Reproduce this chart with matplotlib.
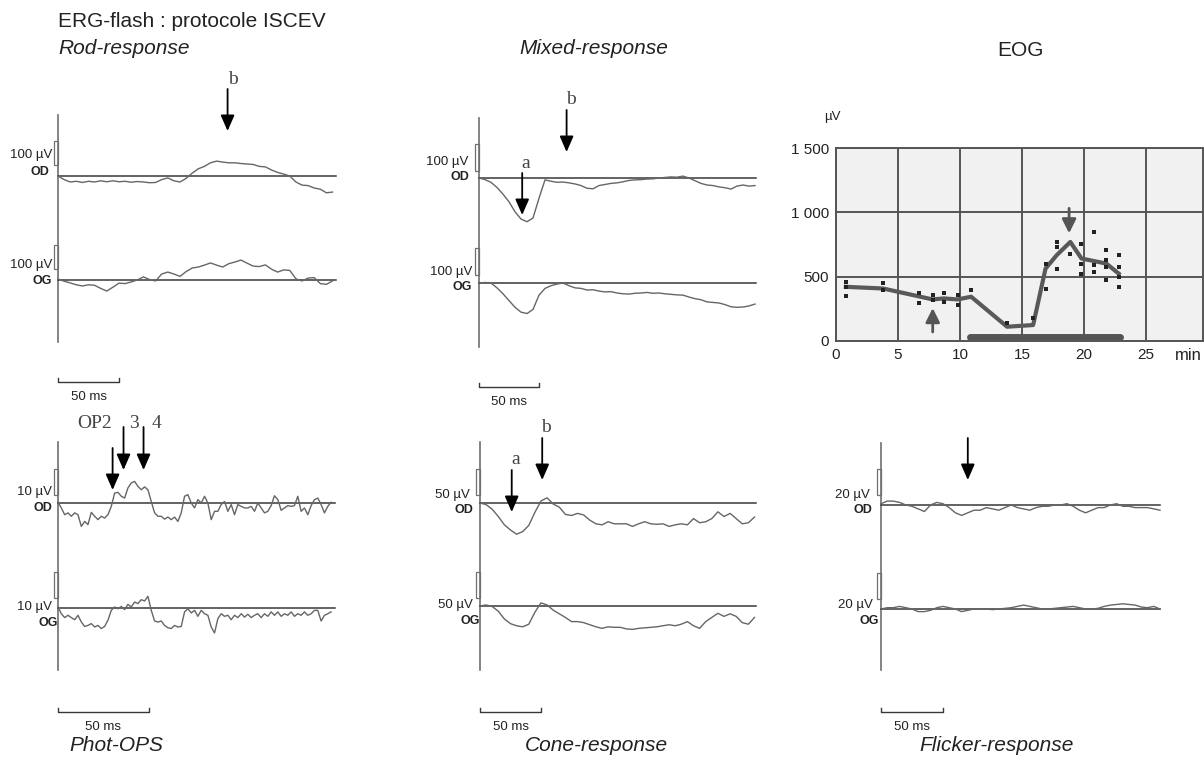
import numpy as np
import matplotlib
matplotlib.use("Agg")
import matplotlib.pyplot as plt
from matplotlib.patches import Rectangle
from matplotlib.transforms import blended_transform_factory as blend

plt.rcParams["font.family"] = ["Liberation Sans", "DejaVu Sans"]

W, H = 1204, 762
INK = "#222222"
TRACE = "#666666"
BASE = "#383838"
AXIS = "#707070"
SERIF = ["Liberation Serif", "DejaVu Serif"]

# ---------------------------------------------------------------- data
# ERG traces in µV, uniformly sampled (dt in ms)
ROD_DT = 5.0
rod_od = [0, -15, -25, -22, -27, -22, -25, -20, -24, -20, -24, -22, -26, -23, -25,
          -28, -27, -15, -8, -20, -25, -10, 12, 30, 40, 55, 62, 58, 55, 55, 52, 50,
          48, 40, 38, 25, 15, 8, 0, -25, -38, -40, -50, -55, -70, -67]
rod_og = [4, -5, -12, -20, -25, -20, -22, -35, -46, -30, -13, -15, -8, 0, 13, 2, -4,
          25, 33, 25, 15, 35, 50, 54, 62, 71, 62, 54, 68, 75, 83, 70, 58, 56, 63, 45,
          33, 42, 40, 5, -4, 8, 10, -15, -18, -4]

MIX_DT = 5.0
mixed_od = [0, -6, -16, -35, -60, -88, -125, -152, -162, -148, -75, -7, -12, -16, -15,
            -18, -22, -28, -38, -40, -28, -24, -20, -18, -14, -9, -7, -6, -4, -3, 0, 2,
            4, 3, 7, 0, -10, -20, -26, -28, -33, -36, -41, -30, -26, -30, -28]
mixed_og = [0, 2, 0, -18, -40, -65, -90, -108, -113, -98, -45, -20, -10, -4, 0, -10,
            -18, -20, -26, -25, -30, -33, -32, -37, -40, -41, -38, -37, -35, -38, -37,
            -40, -42, -44, -45, -52, -58, -62, -70, -72, -74, -80, -88, -90, -89, -85, -78]

OPS_DT = 1.83
ops_od = [0.3, -1.9, -4.5, -3.8, -5.1, -3.8, -4.5, -9.0, -7.1, -8.3,
          -3.6, -5.1, -6.4, -5.1, -5.8, -4.5, -1.3, 3.8, 4.1, 2.6,
          1.9, 5.8, 7.7, 8.3, 6.4, 5.1, 6.2, 5.1, 0.6, -3.8,
          -5.1, -5.1, -6.2, -5.4, -6.4, -5.4, -7.1, -3.8, 2.6, 3.2,
          0.0, -1.9, 1.3, 0.0, 2.6, 0.0, -6.4, -3.2, -3.2, -0.6,
          0.6, -3.2, -0.6, -4.5, -0.6, -1.3, -1.9, -1.9, -1.3, -3.2,
          0.0, -1.9, -3.8, -3.2, -1.0, 2.8, 1.3, -2.8, -1.9, -1.0,
          -1.3, -1.0, 2.6, -3.2, -1.9, -4.5, -1.0, 1.3, 1.9, -0.6,
          -3.8, -1.3, 0.3]
ops_og = [0.4, -2.2, -3.7, -2.8, -3.7, -4.5, -2.8, -5.4, -7.1, -6.7,
          -6.0, -7.3, -6.7, -7.9, -7.1, -4.7, -0.9, 0.4, -0.3, 0.6,
          -0.6, 1.4, 0.4, 2.3, 1.7, 3.2, 2.7, 4.5, -0.9, -5.0,
          -5.4, -5.0, -6.7, -7.6, -7.9, -6.7, -7.3, -7.1, -1.5, -0.3,
          -1.9, -0.9, -3.2, -0.9, -2.2, -2.8, -7.3, -9.6, -4.1, -2.2,
          -3.2, -2.8, -4.5, -2.8, -3.7, -2.2, -3.5, -2.4, -3.7, -2.8,
          -2.2, -3.7, -2.2, -3.2, -1.5, -2.8, -1.5, -3.2, -2.2, -2.8,
          -1.5, -3.2, -2.2, -2.8, -1.5, -2.8, -2.2, -0.9, -0.9, -5.0,
          -2.8, -2.2, -1.5]

CONE_DT = 5.0
cone_od = [0, -3, -12, -26, -42, -52, -60, -55, -43, -18, 4, 10, -2, -8, -22, -24,
           -20, -23, -33, -40, -42, -36, -40, -40, -40, -45, -40, -36, -40, -41, -40,
           -45, -42, -40, -42, -30, -38, -36, -30, -17, -26, -20, -30, -40, -38, -27]
cone_og = [0, 2, -1, -10, -25, -34, -38, -40, -35, -12, 6, 2, -8, -15, -22, -30,
           -30, -32, -36, -40, -43, -40, -41, -41, -44, -45, -43, -42, -41, -40, -38,
           -36, -38, -35, -30, -38, -43, -30, -22, -14, -20, -15, -20, -32, -35, -22]

FLK_DT = 5.0
flicker_od = [1, 3, 3, 2, 0, -1, -3, -5, 0, 2, 1, -2, -6, -8, -6, -4, -4, -2, -3, -4,
              -2, 0, -2, -3, -4, -2, -1, -1, 0, 0, 1, -1, -4, -6, -4, -2, -2, 0, 1, -1,
              -1, -2, -2, -2, -3, -4]
flicker_og = [0, 1, 1, 2, 1, 0, -2, -2, -1, 1, 2, 1, 0, -2, -1, 0, 0, 0, -0.5, 0,
              0.5, 1, 2, 3, 2, 1, 0, 0, 0.5, 1, 1.5, 2, 1, 0, 0, 0.5, 2, 3, 3.5, 4,
              3.5, 3, 1.5, 1, 2, 0]

# EOG: mean curve and individual measurements (min, µV)
eog_min = [0.8, 3.8, 7.8, 8.7, 9.8, 10.9, 13.8, 15.9, 16.9, 17.8, 18.9, 19.8, 21.8, 22.8]
eog_uv = [421, 408, 323, 331, 323, 344, 111, 124, 563, 667, 770, 641, 602, 524]
dots_min = [0.8, 0.8, 0.8, 3.8, 3.8, 6.7, 6.7, 7.8, 7.8, 8.7, 8.7, 9.8, 9.8, 10.9,
            13.8, 15.9, 16.9, 16.9, 17.8, 17.8, 17.8, 18.9, 19.8, 19.8, 19.8,
            20.8, 20.8, 20.8, 21.8, 21.8, 21.8, 21.8, 22.8, 22.8, 22.8, 22.8]
dots_uv = [460, 421, 349, 452, 395, 370, 292, 357, 318, 375, 305, 357, 279, 395,
           137, 176, 602, 408, 770, 731, 563, 680, 757, 602, 524,
           847, 589, 537, 705, 628, 576, 473, 672, 576, 498, 421]
light_on = [10.8, 22.9]
eog_xticks = [0, 5, 10, 15, 20, 25]
eog_yticks = [0, 500, 1000, 1500]
eog_ylabels = ["0", "500", "1 000", "1 500"]

# ---------------------------------------------------------------- figure
fig = plt.figure(figsize=(W / 100, H / 100), dpi=100)
page = fig.add_axes([0, 0, 1, 1], label="page")
page.set_xlim(0, W)
page.set_ylim(H, 0)
page.axis("off")


def trace_axes(x0, base, ms_px, uv_px, name):
    # full-page axes whose origin (0 ms, 0 µV) sits at pixel (x0, base)
    ax = fig.add_axes([0, 0, 1, 1], label=name)
    ax.set_xlim(-x0 / ms_px, (W - x0) / ms_px)
    ax.set_ylim((base - H) / uv_px, base / uv_px)
    ax.axis("off")
    return ax


def erg_panel(name, x0, span, bases, px50, cal_uv, cal_px, cal_bottoms, traces, dt,
              end_ms, unit_pos, eye_pos, bar_y):
    ms_px = px50 / 50.0
    uv_px = cal_px / cal_uv
    page.plot([x0, x0], span, color=AXIS, lw=1.2)
    axes = []
    for eye, base, vals, cb, (ux, uy), (ex, ey) in zip(
            ("OD", "OG"), bases, traces, cal_bottoms, unit_pos, eye_pos):
        ax = trace_axes(x0, base, ms_px, uv_px, name + eye)
        t = np.arange(len(vals)) * dt
        ax.plot([0, end_ms], [0, 0], color=BASE, lw=1.1)
        ax.plot(t, vals, color=TRACE, lw=1.0)
        tr = blend(page.transData, ax.transData)
        ax.add_patch(Rectangle((x0 - 4.5, (base - cb) / uv_px), 4.5, cal_uv,
                               transform=tr, fill=False, ec=AXIS, lw=0.9))
        page.text(ux, uy, f"{cal_uv:g} µV", ha="right", va="center",
                  fontsize=9.5, color=INK)
        page.text(ex, ey, eye, ha="right", va="center", fontsize=9,
                  fontweight="bold", color=INK)
        axes.append(ax)
    tr = blend(axes[0].transData, page.transData)
    axes[0].plot([0, 0, 50, 50], [bar_y - 4, bar_y, bar_y, bar_y - 4],
                 color=BASE, lw=1.0, transform=tr)
    axes[0].text(25, bar_y + 15, "50 ms", transform=tr, ha="center", va="center",
                 fontsize=9.5, color=INK)
    return axes[0]


def arrow(ax, t, y0, y1):
    tr = blend(ax.transData, page.transData)
    ax.annotate("", xy=(t, y1), xytext=(t, y0), xycoords=tr, textcoords=tr,
                arrowprops=dict(arrowstyle="-|>,head_length=0.8,head_width=0.35",
                                color="black", lw=1.3, shrinkA=0, shrinkB=0,
                                mutation_scale=12))


def letter(x, y, s):
    page.text(x, y, s, ha="center", va="center", fontsize=14, family=SERIF,
              color="#444444")


# Rod-response
rod = erg_panel("rod", 58, (115, 342), (176, 280), 61, 100, 24, (165, 269),
                (rod_od, rod_og), ROD_DT, 228, ((52, 155), (52, 265)),
                ((49, 172), (52, 281)), 382)
arrow(rod, 139, 89, 131)
letter(233, 79, "b")

# Mixed-response
mix = erg_panel("mix", 479, (118, 347), (178, 283), 60, 100, 27, (171, 275),
                (mixed_od, mixed_og), MIX_DT, 231, ((468, 162), (472, 272)),
                ((469, 177), (472, 287)), 387)
arrow(mix, 36, 173, 215)
arrow(mix, 73, 110, 152)
letter(526, 163, "a")
letter(571, 99, "b")

# Phot-OPS
ops = erg_panel("ops", 58, (442, 670), (503, 608), 91, 10, 26, (495, 598),
                (ops_od, ops_og), OPS_DT, 152, ((52, 492), (52, 607)),
                ((52, 508), (58, 623)), 712)
arrow(ops, 30, 448, 490)
arrow(ops, 36, 427, 470)
arrow(ops, 47, 427, 470)
letter(95, 423, "OP2")
letter(134, 423, "3")
letter(156, 423, "4")

# Cone-response
cone = erg_panel("cone", 480, (442, 670), (503, 606), 61, 50, 26, (495, 598),
                 (cone_od, cone_og), CONE_DT, 226, ((470, 495), (473, 605)),
                 ((473, 510), (480, 621)), 712)
arrow(cone, 26, 470, 512)
arrow(cone, 51, 438, 480)
letter(516, 460, "a")
letter(546, 428, "b")

# Flicker-response
flk = erg_panel("flk", 881, (443, 670), (505, 609), 62, 20, 26, (495, 599),
                (flicker_od, flicker_og), FLK_DT, 225, ((870, 495), (873, 605)),
                ((872, 510), (879, 621)), 712)
arrow(flk, 70, 438, 480)

# EOG
eog = fig.add_axes([836 / W, 1 - 341 / H, (1203 - 836) / W, (341 - 148) / H])
eog.set_xlim(0, 29.6)
eog.set_ylim(0, 1500)
eog.set_facecolor("#f1f1f1")
eog.set_axisbelow(True)
eog.grid(True, color="#555555", lw=1.4)
for s in eog.spines.values():
    s.set_color("#555555")
    s.set_linewidth(1.4)
eog.set_xticks(eog_xticks)
eog.set_yticks(eog_yticks)
eog.set_yticklabels(eog_ylabels)
eog.tick_params(length=0, labelsize=11, colors=INK, pad=5)
eog.plot(light_on, [30, 30], color="#555555", lw=5, solid_capstyle="round")
eog.plot(eog_min, eog_uv, color="#595959", lw=3, solid_joinstyle="round")
eog.plot(dots_min, dots_uv, "s", color="#222222", ms=2.2, mew=0)
eog_arrow = dict(arrowstyle="-|>,head_length=0.7,head_width=0.35", color="#555555",
                 lw=2, shrinkA=0, shrinkB=0, mutation_scale=12)
eog.annotate("", xy=(7.8, 256), xytext=(7.8, 70), arrowprops=eog_arrow)
eog.annotate("", xy=(18.8, 837), xytext=(18.8, 1031), arrowprops=eog_arrow)
page.text(1175, 355, "min", ha="left", va="center", fontsize=12, color=INK)
page.text(832, 117, "µV", ha="center", va="center", fontsize=9.5, color=INK)

# titles
page.text(58, 27, "ERG-flash : protocole ISCEV", ha="left", va="baseline",
          fontsize=15, color=INK)
page.text(58, 54, "Rod-response", ha="left", va="baseline", fontsize=15,
          style="italic", color=INK)
page.text(594, 54, "Mixed-response", ha="center", va="baseline", fontsize=15,
          style="italic", color=INK)
page.text(1020, 56, "EOG", ha="center", va="baseline", fontsize=15, color=INK)
page.text(116, 751, "Phot-OPS", ha="center", va="baseline", fontsize=15,
          style="italic", color=INK)
page.text(596, 751, "Cone-response", ha="center", va="baseline", fontsize=15,
          style="italic", color=INK)
page.text(997, 751, "Flicker-response", ha="center", va="baseline", fontsize=15,
          style="italic", color=INK)

fig.savefig("out.png", dpi=100)
